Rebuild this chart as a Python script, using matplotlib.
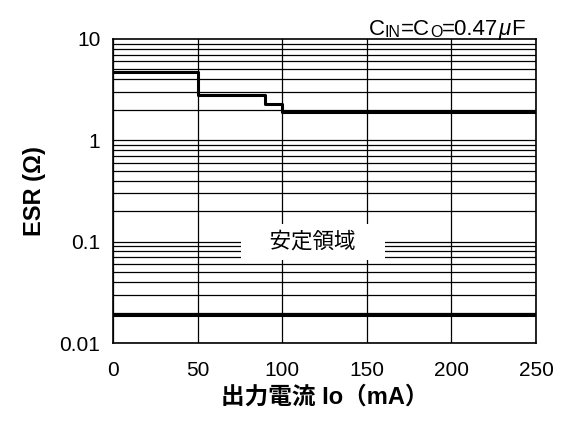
import numpy as np
import matplotlib
matplotlib.use('Agg')
from matplotlib import pyplot as plt

plt.rcParams['font.family'] = ['Liberation Sans', 'Noto Sans CJK JP', 'DejaVu Sans']

# upper stability limit (step line)
upper_x = [0, 50, 50, 90, 90, 100, 100, 250]
upper_esr = [4.7, 4.7, 2.8, 2.8, 2.3, 2.3, 1.9, 1.9]

# lower stability limit
lower_x = [0, 250]
lower_esr = [0.019, 0.019]

x_ticks = [0, 50, 100, 150, 200, 250]
y_ticks = [0.01, 0.1, 1, 10]
y_tick_labels = ['0.01', '0.1', '1', '10']


fig = plt.figure(figsize = (5.63, 4.23), dpi = 100)
ax = fig.add_axes([0.2007, 0.189, 0.7513, 0.719])

ax.set_yscale('log')
ax.set_xlim(0, 250)
ax.set_ylim(0.01, 10)

# grid: vertical every 50, horizontal at every log minor step
for xv in x_ticks:
    ax.axvline(xv, color = 'black', linewidth = 0.9, zorder = 1)
for dec in [0.01, 0.1, 1]:
    for m in range(1, 10):
        ax.axhline(dec * m, color = 'black', linewidth = 0.9, zorder = 1)

ax.plot(upper_x, upper_esr, color = 'black', linewidth = 2.2, zorder = 3)
ax.plot(lower_x, lower_esr, color = 'black', linewidth = 2.2, zorder = 3)

ax.set_xticks(x_ticks)
ax.set_xticklabels([str(v) for v in x_ticks], fontsize = 15)
ax.set_yticks(y_ticks)
ax.set_yticklabels(y_tick_labels, fontsize = 15)
ax.minorticks_off()
ax.tick_params(axis = 'x', length = 0, pad = 13)
ax.tick_params(axis = 'y', length = 0, pad = 9)

for sp in ax.spines.values():
    sp.set_linewidth(1.2)

ax.text(118, 0.1, '\u3000安定領域\u3000', fontsize = 15.5, ha = 'center', va = 'center',
        zorder = 4, bbox = dict(facecolor = 'white', edgecolor = 'none',
                                boxstyle = 'square,pad=0.35'))

# C_IN = C_O = 0.47 uF, with small caps for the suffixes
pieces = [('C', 16, 'normal'), ('IN', 11.5, 'normal'), ('=C', 16, 'normal'),
          ('O', 11.5, 'normal'), ('=0.47', 16, 'normal'), ('μ', 16, 'italic'),
          ('F', 16, 'normal')]
prev = ax.text(0.605, 0.995, pieces[0][0], transform = ax.transAxes,
               fontsize = pieces[0][1], va = 'bottom', ha = 'left')
for txt, fs, st in pieces[1:]:
    prev = ax.annotate(txt, xy = (1, 0), xycoords = prev, fontsize = fs,
                       fontstyle = st, va = 'bottom', ha = 'left')

ax.set_xlabel('出力電流 Io（mA）', fontsize = 17, fontweight = 'bold', labelpad = 4)
ax.set_ylabel('ESR (Ω)', fontsize = 17, fontweight = 'bold', labelpad = 10)

fig.savefig('out.png', dpi = 100)
